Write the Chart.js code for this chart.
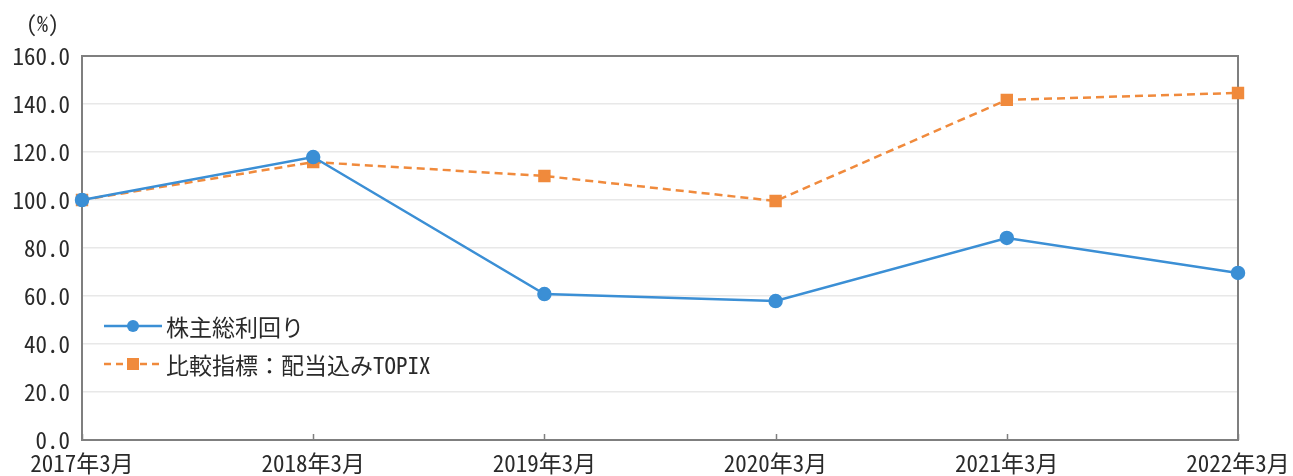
<!DOCTYPE html>
<html><head><meta charset="utf-8">
<script src="https://cdn.jsdelivr.net/npm/chart.js@4/dist/chart.umd.min.js"></script>
<style>html,body{margin:0;padding:0;background:#fff}#wrap{width:1293px;height:476px;position:relative}</style>
</head><body><div id="wrap"><canvas id="c" width="1293" height="476"></canvas></div>
<script>
const categories = ["2017年3月","2018年3月","2019年3月","2020年3月","2021年3月","2022年3月"];
const tsrValues = [100.0, 117.9, 60.8, 57.9, 84.2, 69.6];
const topixValues = [100.0, 115.8, 110.0, 99.6, 141.7, 144.6];
const seriesNames = ["株主総利回り", "比較指標：配当込みTOPIX"];
const unitLabel = "(%)";

const BLUE = "#3b8fd5", ORANGE = "#f08a3c";
const FONT = "'Noto Sans Mono CJK JP', 'Noto Sans CJK JP', 'DejaVu Sans Mono', monospace";
const TXT = "#2a2a2a";

const decor = {
  id: 'decor',
  beforeDatasetsDraw(chart) {
    const {ctx, chartArea: a} = chart;
    ctx.save();
    ctx.strokeStyle = "#7f7f7f"; ctx.lineWidth = 2;
    ctx.strokeRect(a.left, a.top, a.right - a.left, a.bottom - a.top);
    const xs = chart.scales.x;
    ctx.lineWidth = 1.5;
    categories.forEach((c, i) => {
      const x = Math.round(xs.getPixelForValue(i)) + 0.5;
      ctx.beginPath(); ctx.moveTo(x, a.bottom); ctx.lineTo(x, a.bottom - 6); ctx.stroke();
    });
    ctx.restore();
  },
  afterDraw(chart) {
    const {ctx} = chart;
    ctx.save();
    ctx.fillStyle = TXT; ctx.font = "22px " + FONT;
    ctx.textBaseline = "middle"; ctx.textAlign = "left";
    ctx.fillText(unitLabel, 26, 24);
    const rows = [
      {y: 326, color: BLUE, dash: [], shape: 'circle', text: seriesNames[0]},
      {y: 364, color: ORANGE, dash: [7, 5], shape: 'square', text: seriesNames[1]}
    ];
    rows.forEach(r => {
      ctx.strokeStyle = r.color; ctx.lineWidth = 2.5; ctx.setLineDash(r.dash);
      ctx.beginPath(); ctx.moveTo(104, r.y); ctx.lineTo(162, r.y); ctx.stroke();
      ctx.setLineDash([]);
      ctx.fillStyle = r.color;
      if (r.shape === 'circle') { ctx.beginPath(); ctx.arc(133, r.y, 6, 0, Math.PI * 2); ctx.fill(); }
      else { ctx.fillRect(127, r.y - 6, 12, 12); }
      ctx.fillStyle = TXT;
      ctx.font = "23px " + FONT;
      ctx.fillText(r.text, 166, r.y + 1);
    });
    ctx.restore();
  }
};

new Chart(document.getElementById('c'), {
  type: 'line',
  data: {
    labels: categories,
    datasets: [
      {label: seriesNames[0], data: tsrValues, borderColor: BLUE, backgroundColor: BLUE,
       borderWidth: 2.5, pointStyle: 'circle', pointRadius: 6, pointHoverRadius: 6, tension: 0},
      {label: seriesNames[1], data: topixValues, borderColor: ORANGE, backgroundColor: ORANGE,
       borderWidth: 2.5, borderDash: [8, 5], pointStyle: 'rect', pointRadius: 7, pointHoverRadius: 7, tension: 0}
    ]
  },
  options: {
    responsive: false, animation: false,
    layout: {padding: {top: 56, right: 55, left: 0, bottom: 0}},
    plugins: {legend: {display: false}, tooltip: {enabled: false}, title: {display: false}},
    scales: {
      x: {
        offset: false,
        grid: {display: false, drawTicks: false},
        border: {display: false},
        ticks: {color: TXT, font: {family: FONT, size: 23, lineHeight: 1.8}, padding: 3, maxRotation: 0, autoSkip: false},
        afterFit(s) { s.height = 36; }
      },
      y: {
        min: 0, max: 160,
        grid: {color: "#e8e8e8", lineWidth: 1.5, drawTicks: false},
        border: {display: false},
        ticks: {stepSize: 20, color: TXT, font: {family: FONT, size: 23}, padding: 12,
                callback: v => v.toFixed(1)},
        afterFit(s) { s.width = 82; }
      }
    }
  },
  plugins: [decor]
});
</script></body></html>
